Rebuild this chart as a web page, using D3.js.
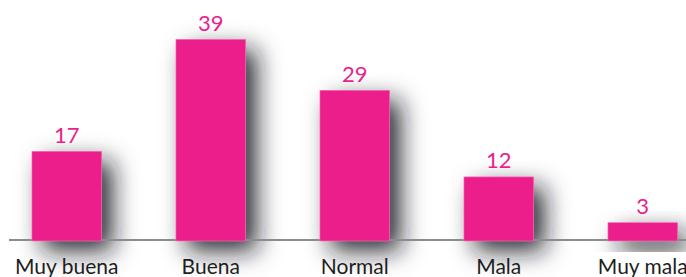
<!DOCTYPE html>
<html lang="es">
<head>
    <meta charset="UTF-8">
    <title>Valoración</title>
    <script src="https://d3js.org/d3.v7.min.js"></script>
    <style>
        html, body { margin: 0; padding: 0; background: #fff; overflow: hidden; }
    </style>
</head>
<body>
    <div id="chart"></div>

    <script>
        const categories = ["Muy buena", "Buena", "Normal", "Mala", "Muy mala"];
        const values = [17, 39, 29, 12, 3];

        const width = 686;
        const height = 277;
        const baseY = 240;
        const pink = "#EB1E8B";

        const svg = d3.select("#chart").append("svg")
            .attr("width", width)
            .attr("height", height);

        // soft shadow behind the bars
        const defs = svg.append("defs");
        const filter = defs.append("filter")
            .attr("id", "shadow")
            .attr("x", "-80%").attr("y", "-60%")
            .attr("width", "260%").attr("height", "220%");
        filter.append("feDropShadow")
            .attr("dx", 11)
            .attr("dy", 10)
            .attr("stdDeviation", 12)
            .attr("flood-color", "#15191b")
            .attr("flood-opacity", 0.9);

        const x = d3.scaleBand()
            .domain(categories)
            .range([-5.25, 714.75])
            .paddingInner(0.517)
            .paddingOuter(0.2585);

        const y = d3.scaleLinear()
            .domain([0, 39])
            .range([238, 39.5]);

        const data = categories.map((c, i) => ({ cat: c, val: values[i] }));

        // shadows first, so the baseline sits over them
        svg.append("g").selectAll("rect")
            .data(data)
            .join("rect")
            .attr("x", d => x(d.cat))
            .attr("y", d => y(d.val))
            .attr("width", x.bandwidth())
            .attr("height", d => baseY + 1 - y(d.val))
            .attr("fill", pink)
            .attr("filter", "url(#shadow)");

        // baseline
        svg.append("line")
            .attr("x1", 9)
            .attr("x2", width)
            .attr("y1", baseY)
            .attr("y2", baseY)
            .attr("stroke", "#8a8d8f")
            .attr("stroke-width", 2);

        // bars on top of the line
        svg.append("g").selectAll("rect")
            .data(data)
            .join("rect")
            .attr("x", d => x(d.cat))
            .attr("y", d => y(d.val))
            .attr("width", x.bandwidth())
            .attr("height", d => baseY + 1 - y(d.val))
            .attr("fill", pink)
            .attr("stroke", "#f27bb8")
            .attr("stroke-width", 0.6);

        // value labels
        svg.append("g").selectAll("text")
            .data(data)
            .join("text")
            .attr("x", d => x(d.cat) + x.bandwidth() / 2)
            .attr("y", d => y(d.val) - 8.5)
            .attr("text-anchor", "middle")
            .attr("font-family", "Lato, 'Noto Sans', sans-serif")
            .attr("font-size", 22)
            .attr("fill", pink)
            .text(d => d.val);

        // category labels
        svg.append("g").selectAll("text")
            .data(data)
            .join("text")
            .attr("x", d => x(d.cat) + x.bandwidth() / 2)
            .attr("y", 274)
            .attr("text-anchor", "middle")
            .attr("font-family", "Lato, 'Noto Sans', sans-serif")
            .attr("font-size", 21)
            .attr("fill", "#1e1e1e")
            .text(d => d.cat);
    </script>
</body>
</html>
